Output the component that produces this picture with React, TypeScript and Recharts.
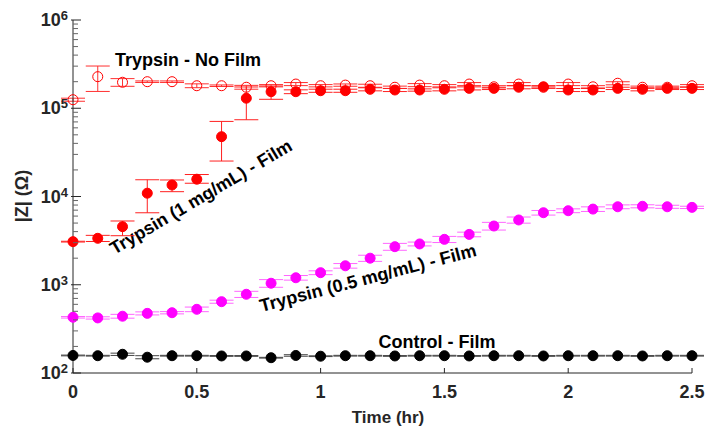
import { ScatterChart, Scatter, XAxis, YAxis, ErrorBar } from 'recharts';

// time points (hr)
const times = [0, 0.1, 0.2, 0.3, 0.4, 0.5, 0.6, 0.7, 0.8, 0.9, 1.0, 1.1, 1.2, 1.3, 1.4, 1.5, 1.6, 1.7, 1.8, 1.9, 2.0, 2.1, 2.2, 2.3, 2.4, 2.5];

// |Z| in ohms
const noFilm = [125000, 228000, 197000, 200000, 200000, 180000, 180000, 173000, 180000, 188000, 180000, 183000, 180000, 173000, 183000, 180000, 188000, 175000, 188000, 173000, 188000, 175000, 192000, 173000, 173000, 180000];
const oneMgFilm = [3080, 3360, 4550, 10900, 13500, 15700, 47600, 130000, 154000, 154000, 158000, 158000, 164000, 161000, 161000, 164000, 168000, 168000, 173000, 175000, 161000, 161000, 168000, 164000, 168000, 168000];
const halfMgFilm = [428, 421, 440, 474, 482, 527, 643, 780, 1040, 1200, 1370, 1640, 2000, 2700, 2900, 3270, 3720, 4630, 5420, 6550, 6900, 7200, 7650, 7750, 7650, 7530];
const controlFilm = [158, 157, 163, 151, 157, 157, 156, 156, 149, 158, 155, 157, 157, 156, 157, 157, 156, 157, 157, 156, 157, 157, 157, 156, 157, 157];

// error bar sizes, percent of value (down / up)
const noFilmErrLo = [4, 32, 10, 2, 2, 5, 2, 5, 3, 4, 3, 3, 4, 3, 4, 3, 4, 3, 4, 3, 4, 3, 4, 3, 3, 3];
const noFilmErrHi = [4, 32, 10, 2, 2, 5, 2, 5, 3, 4, 3, 3, 4, 3, 4, 3, 4, 3, 4, 3, 4, 3, 4, 3, 3, 3];
const oneMgErrLo = [1, 8, 21, 40, 16, 10, 47, 43, 18, 5, 4, 4, 4, 4, 3, 4, 4, 3, 4, 3, 4, 4, 3, 4, 3, 3];
const oneMgErrHi = [1, 8, 16, 42, 14, 13, 49, 34, 16, 5, 4, 4, 4, 4, 3, 4, 4, 3, 4, 3, 4, 4, 3, 4, 3, 3];
const halfMgErr = [2, 3, 5, 4, 3, 6, 4, 8, 10, 6, 5, 6, 8, 9, 5, 8, 6, 10, 8, 6, 5, 6, 5, 4, 4, 3];
const controlErr = [1, 1, 3, 4, 1, 1, 1, 1, 1, 2, 1, 1, 1, 1, 1, 1, 1, 1, 1, 1, 1, 1, 1, 1, 1, 1];

const xTicks = [0, 0.5, 1, 1.5, 2, 2.5];
const yMajor = [100, 1000, 10000, 100000, 1000000];
const yTicks: number[] = [];
yMajor.forEach((m, i) => {
  yTicks.push(m);
  if (i < yMajor.length - 1) for (let k = 2; k <= 9; k++) yTicks.push(m * k);
});

const build = (vals: number[], lo: number[], hi: number[]) =>
  times.map((t, i) => ({ x: t, y: vals[i], err: [(vals[i] * lo[i]) / 100, (vals[i] * hi[i]) / 100] }));

const noFilmData = build(noFilm, noFilmErrLo, noFilmErrHi);
const oneMgData = build(oneMgFilm, oneMgErrLo, oneMgErrHi);
const halfMgData = build(halfMgFilm, halfMgErr, halfMgErr);
const controlData = build(controlFilm, controlErr, controlErr);

const FONT = '"Liberation Sans", Arial, sans-serif';
const AXIS = '#262626';

const YTick = (props: any) => {
  const { x, y, payload } = props;
  const lg = Math.log10(payload.value);
  const exp = Math.round(lg);
  const major = Math.abs(lg - exp) < 1e-6;
  const ax = x + 5;
  return (
    <g>
      <line x1={major ? ax - 2 : ax} x2={ax + (major ? 8 : 5)} y1={y} y2={y} stroke={major ? AXIS : '#666'} strokeWidth={1} />
      {major && (
        <text x={x} y={y} textAnchor="end" fill={AXIS} fontFamily={FONT} fontWeight="bold">
          <tspan fontSize={18} dy={6}>10</tspan>
          <tspan fontSize={13} dy={-6}>{exp}</tspan>
        </text>
      )}
    </g>
  );
};

const XTick = (props: any) => {
  const { x, y, payload } = props;
  const ay = y - 12;
  return (
    <g>
      <line x1={x} x2={x} y1={ay} y2={ay - 5} stroke={AXIS} strokeWidth={1} />
      <text x={x} y={y + 13} textAnchor="middle" fill={AXIS} fontFamily={FONT} fontWeight="bold" fontSize={18}>
        {payload.value}
      </text>
    </g>
  );
};

const dot = (fill: string, stroke: string) => (p: any) =>
  <circle cx={p.cx} cy={p.cy} r={5} fill={fill} stroke={stroke} strokeWidth={1} />;

const labelStyle = { fontFamily: FONT, fontWeight: 'bold' as const, fontSize: 18, fill: '#000' };

export default function App() {
  return (
    <>
      <style>{'body{margin:0}'}</style>
      <ScatterChart width={706} height={432} margin={{ top: 20, right: 14, bottom: 19, left: 0 }}>
        <XAxis
          type="number"
          dataKey="x"
          domain={[0, 2.5]}
          ticks={xTicks}
          interval={0}
          height={40}
          tickSize={0}
          tickMargin={12}
          tick={<XTick />}
          axisLine={{ stroke: AXIS }}
        />
        <YAxis
          type="number"
          dataKey="y"
          scale="log"
          domain={[100, 1000000]}
          allowDataOverflow
          ticks={yTicks}
          interval={0}
          width={73}
          tickSize={0}
          tickMargin={5}
          tick={<YTick />}
          axisLine={{ stroke: AXIS }}
        />
        <Scatter data={noFilmData} isAnimationActive={false} shape={dot('none', '#ff0000')}>
          <ErrorBar dataKey="err" direction="y" width={12} stroke="#ff3030" strokeWidth={1} isAnimationActive={false} />
        </Scatter>
        <Scatter data={oneMgData} isAnimationActive={false} shape={dot('#ff0000', '#ff0000')}>
          <ErrorBar dataKey="err" direction="y" width={12} stroke="#ff2020" strokeWidth={1} isAnimationActive={false} />
        </Scatter>
        <Scatter data={halfMgData} isAnimationActive={false} shape={dot('#ff00ff', '#ff00ff')}>
          <ErrorBar dataKey="err" direction="y" width={12} stroke="#ff66ff" strokeWidth={1} isAnimationActive={false} />
        </Scatter>
        <Scatter data={controlData} isAnimationActive={false} shape={dot('#000000', '#000000')}>
          <ErrorBar dataKey="err" direction="y" width={12} stroke="#444444" strokeWidth={1} isAnimationActive={false} />
        </Scatter>

        <text x={188} y={60} textAnchor="middle" dominantBaseline="central" style={labelStyle}>
          Trypsin - No Film
        </text>
        <text x={201} y={197} textAnchor="middle" dominantBaseline="central" transform="rotate(-30.5 201 197)" style={labelStyle}>
          Trypsin (1 mg/mL) - Film
        </text>
        <text x={368} y={278} textAnchor="middle" dominantBaseline="central" transform="rotate(-14.6 368 278)" style={labelStyle}>
          Trypsin (0.5 mg/mL) - Film
        </text>
        <text x={437} y={342} textAnchor="middle" dominantBaseline="central" style={labelStyle}>
          Control - Film
        </text>

        <text x={388} y={417} textAnchor="middle" dominantBaseline="central" style={{ ...labelStyle, fontSize: 17, fill: AXIS }}>
          Time (hr)
        </text>
        <text x={22} y={196} textAnchor="middle" dominantBaseline="central" transform="rotate(-90 22 196)" style={{ ...labelStyle, fontSize: 18, fill: AXIS }}>
          |Z| (Ω)
        </text>
      </ScatterChart>
    </>
  );
}
